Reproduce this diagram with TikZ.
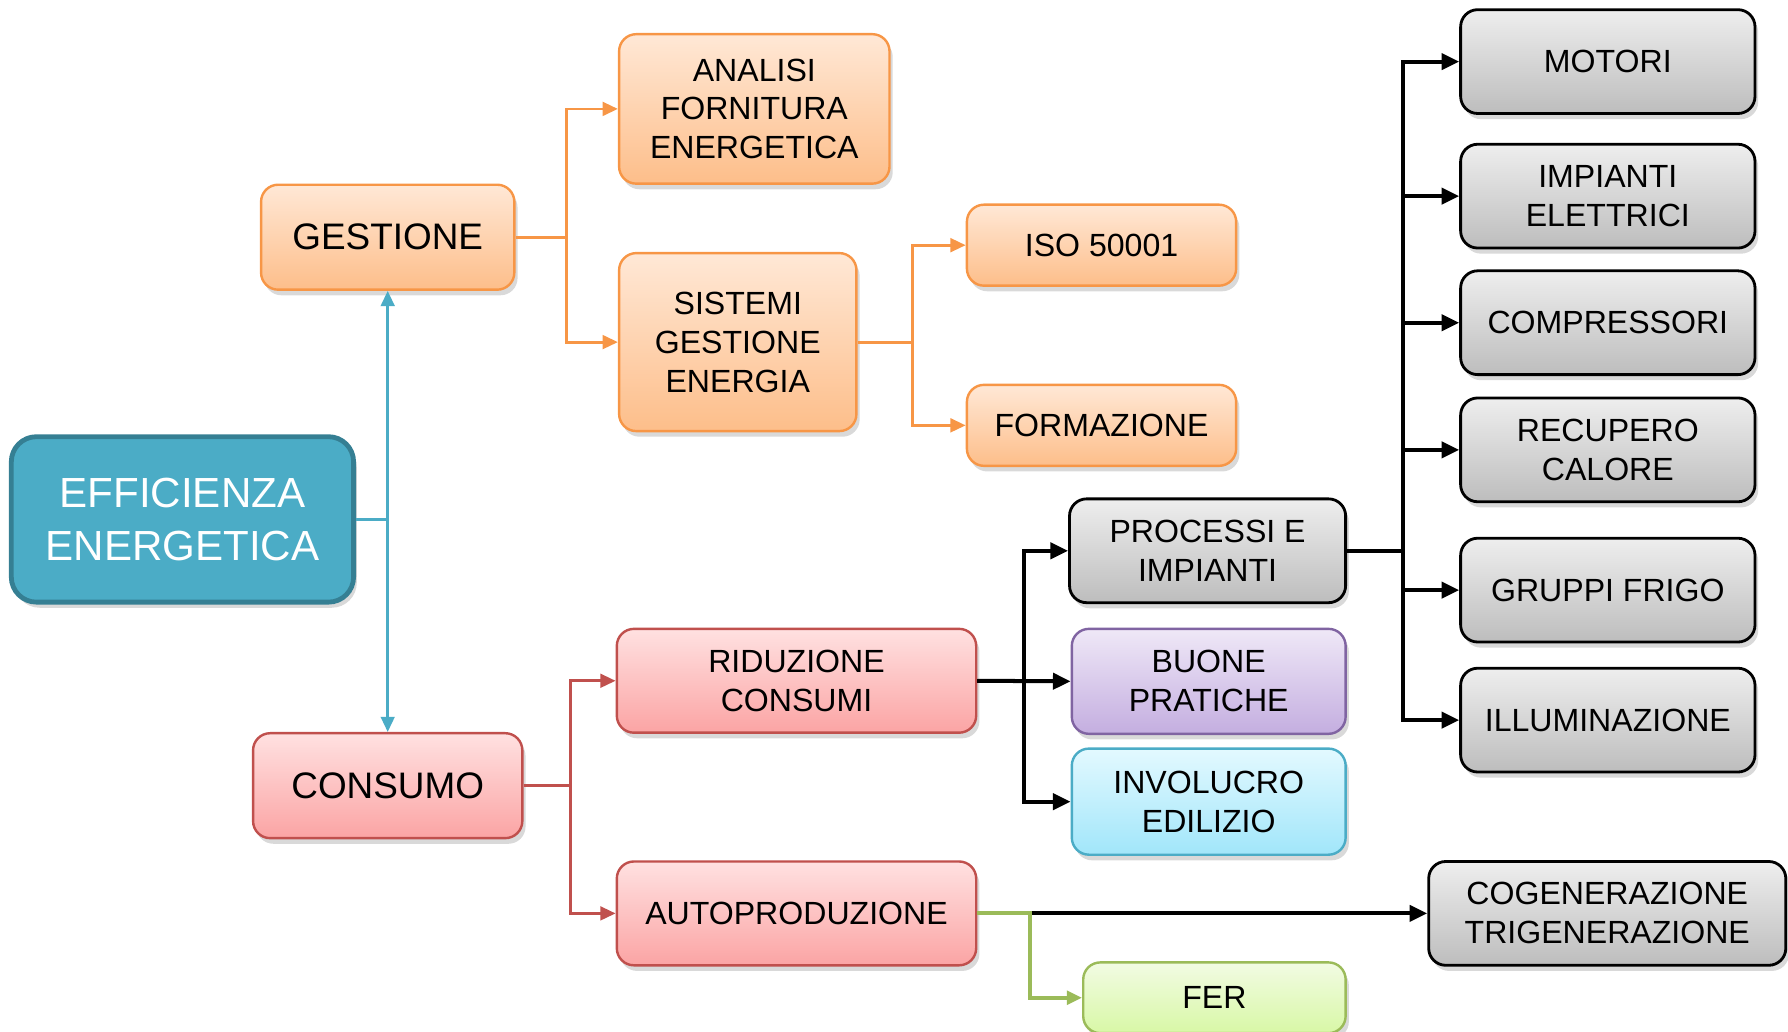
\documentclass[tikz,border=0pt]{standalone}
\usepackage{fontspec}
\setmainfont{Liberation Sans}
\usetikzlibrary{arrows.meta,shadows}

\definecolor{effblue}{HTML}{4BACC6}
\definecolor{effborder}{HTML}{357F93}
\definecolor{orline}{HTML}{F79646}
\definecolor{ortop}{HTML}{FFE8D6}
\definecolor{orbot}{HTML}{FDBE8A}
\definecolor{redline}{HTML}{C0504D}
\definecolor{redtop}{HTML}{FFE1E1}
\definecolor{redbot}{HTML}{FBA4A4}
\definecolor{graytop}{HTML}{EEEEEE}
\definecolor{graybot}{HTML}{BDBDBD}
\definecolor{purline}{HTML}{8064A2}
\definecolor{purtop}{HTML}{EFE8F7}
\definecolor{purbot}{HTML}{C4AEE0}
\definecolor{cyantop}{HTML}{E3F9FF}
\definecolor{cyanbot}{HTML}{A1E6FA}
\definecolor{grline}{HTML}{9BBB59}
\definecolor{grtop}{HTML}{F2FBE3}
\definecolor{grbot}{HTML}{D8F8A6}

\begin{document}
\begin{tikzpicture}[x=0.01cm, y=-0.01cm,
    box/.style={rounded corners=0.15cm, align=center, inner sep=0pt,
        font=\fontsize{8}{9.7}\selectfont,
        drop shadow={shadow xshift=0.8pt, shadow yshift=-1.4pt, opacity=0.3}},
    orbox/.style={box, draw=orline, line width=0.6pt, top color=ortop, bottom color=orbot},
    redbox/.style={box, draw=redline, line width=0.6pt, top color=redtop, bottom color=redbot},
    graybox/.style={box, draw=black, line width=0.7pt, top color=graytop, bottom color=graybot},
    big/.style={font=\fontsize{9.2}{11}\selectfont},
    link/.style={line width=0.7pt, -{Triangle[length=3.8pt, width=3.4pt]}},
    blink/.style={line width=1pt, -{Triangle[length=4.4pt, width=4pt]}},
    plain/.style={line width=0.7pt}]
    \useasboundingbox (0,0) rectangle (1568,905);

    % Root
    \node[box, draw=effborder, line width=1.2pt, fill=effblue, text=white, rounded corners=0.22cm,
        font=\fontsize{10.5}{13.1}\selectfont, minimum width=3cm, minimum height=1.45cm]
        (eff) at (160,455.5) {EFFICIENZA\\ENERGETICA};

    % First level
    \node[orbox, big, minimum width=2.22cm, minimum height=0.92cm] (gest) at (340,208) {GESTIONE};
    \node[redbox, big, minimum width=2.36cm, minimum height=0.92cm] (cons) at (340,689) {CONSUMO};

    % Gestione branch
    \node[orbox, minimum width=2.37cm, minimum height=1.31cm] (analisi) at (661.5,95.5) {ANALISI\\FORNITURA\\ENERGETICA};
    \node[orbox, minimum width=2.08cm, minimum height=1.56cm] (sge) at (647,300) {SISTEMI\\GESTIONE\\ENERGIA};
    \node[orbox, minimum width=2.36cm, minimum height=0.71cm] (iso) at (966,215) {ISO 50001};
    \node[orbox, minimum width=2.36cm, minimum height=0.71cm] (form) at (966,373) {FORMAZIONE};

    % Consumo branch
    \node[redbox, minimum width=3.15cm, minimum height=0.91cm] (rid) at (698.5,597) {RIDUZIONE\\CONSUMI};
    \node[redbox, minimum width=3.15cm, minimum height=0.91cm] (auto) at (698.5,801) {AUTOPRODUZIONE};
    \node[graybox, minimum width=2.42cm, minimum height=0.91cm] (proc) at (1059,483) {PROCESSI E\\IMPIANTI};
    \node[box, draw=purline, line width=0.6pt, top color=purtop, bottom color=purbot,
        minimum width=2.4cm, minimum height=0.92cm] (buone) at (1060,597.5) {BUONE\\PRATICHE};
    \node[box, draw=effblue, line width=0.6pt, top color=cyantop, bottom color=cyanbot,
        minimum width=2.4cm, minimum height=0.93cm] (invol) at (1060,703) {INVOLUCRO\\EDILIZIO};
    \node[box, draw=grline, line width=0.6pt, top color=grtop, bottom color=grbot,
        minimum width=2.3cm, minimum height=0.62cm] (fer) at (1065,875) {FER};
    \node[graybox, minimum width=3.13cm, minimum height=0.91cm] (cogen) at (1409.5,801) {COGENERAZIONE\\TRIGENERAZIONE};

    % Impianti column
    \node[graybox, minimum width=2.58cm, minimum height=0.91cm] (motori) at (1410,54) {MOTORI};
    \node[graybox, minimum width=2.58cm, minimum height=0.91cm] (impel) at (1410,172) {IMPIANTI\\ELETTRICI};
    \node[graybox, minimum width=2.58cm, minimum height=0.91cm] (compr) at (1410,283) {COMPRESSORI};
    \node[graybox, minimum width=2.58cm, minimum height=0.91cm] (recup) at (1410,394.5) {RECUPERO\\CALORE};
    \node[graybox, minimum width=2.58cm, minimum height=0.91cm] (frigo) at (1410,517.5) {GRUPPI FRIGO};
    \node[graybox, minimum width=2.58cm, minimum height=0.91cm] (illum) at (1410,631.5) {ILLUMINAZIONE};

    % Root connectors
    \coordinate (jeff) at (340,455.5);
    \draw[plain, effblue] (eff.east) -- (jeff);
    \draw[link, effblue] (jeff) -- (gest.south);
    \draw[link, effblue] (jeff) -- (cons.north);

    % Orange connectors
    \draw[plain, orline] (gest.east) -- (497,208);
    \draw[link, orline] (497,208) |- (analisi.west);
    \draw[link, orline] (497,208) |- (sge.west);
    \draw[plain, orline] (sge.east) -- (800,300);
    \draw[link, orline] (800,300) |- (iso.west);
    \draw[link, orline] (800,300) |- (form.west);

    % Red connectors
    \draw[plain, redline] (cons.east) -- (500,689);
    \draw[link, redline] (500,689) |- (rid.west);
    \draw[link, redline] (500,689) |- (auto.west);

    % Black connectors
    \draw[blink] (rid.east) -- (898,597) |- (proc.west);
    \draw[blink] (rid.east) -- (buone.west);
    \draw[blink] (898,597) |- (invol.west);
    \draw[plain, line width=1pt] (proc.east) -- (1230,483);
    \foreach \n in {motori,impel,compr,recup,frigo,illum}
        \draw[blink] (1230,483) |- (\n.west);

    % Autoproduzione
    \draw[blink] (auto.east) -- (cogen.west);
    \draw[link, grline, line width=1pt] (auto.east) -- (903,801) |- (fer.west);
\end{tikzpicture}
\end{document}
